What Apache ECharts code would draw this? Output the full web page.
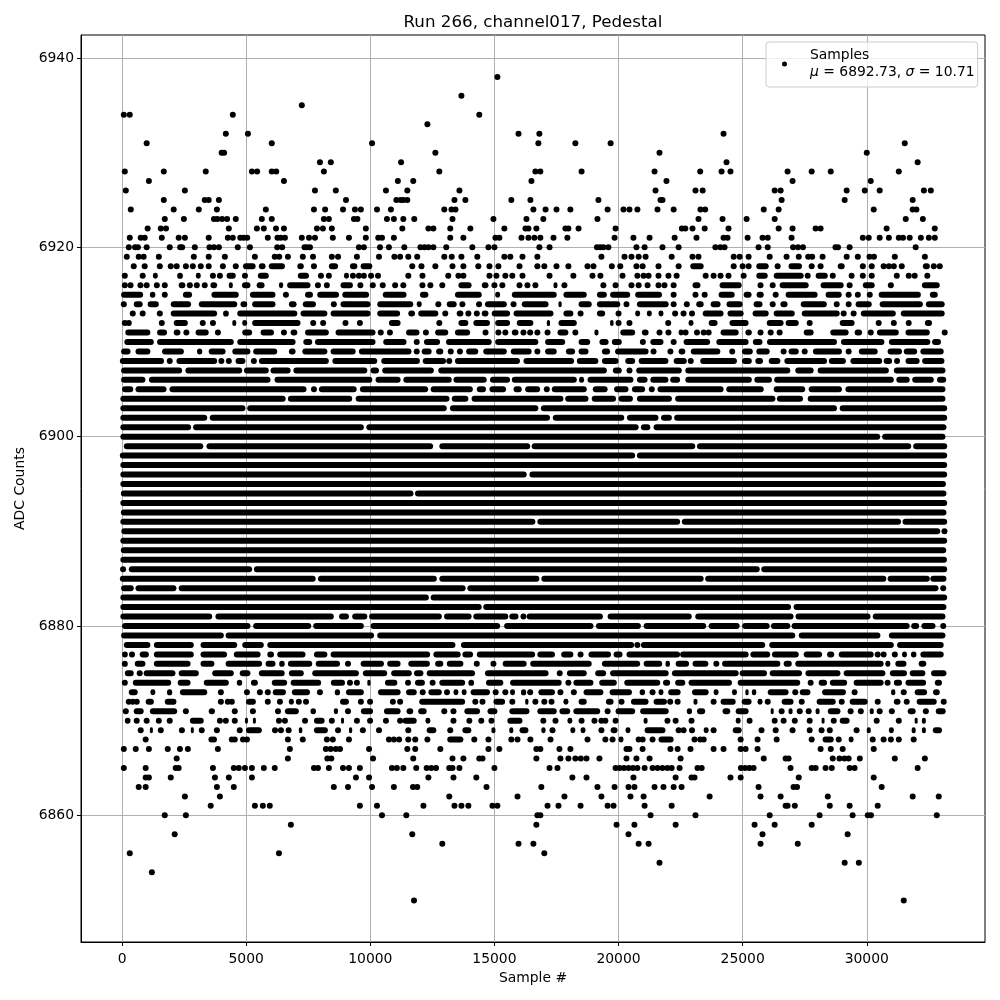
<!DOCTYPE html>
<html>
<head>
<meta charset="utf-8">
<title>Run 266, channel017, Pedestal</title>
<script src="https://cdn.jsdelivr.net/npm/echarts@6/dist/echarts.min.js"></script>
<style>
  html, body { margin: 0; padding: 0; background: #fff; }
  #chart { width: 1000px; height: 1000px; }
</style>
</head>
<body>
<div id="chart"></div>
<script>
// tick labels
const xTicks = [0, 5000, 10000, 15000, 20000, 25000, 30000];
const yTicks = [6860, 6880, 6900, 6920, 6940];

// samples, one list per ADC level
// a number is a single sample, a pair is an unbroken run of samples [first, last]
const upperLevels = [6938, 6936, 6935, 6934, 6933, 6932, 6931, 6930, 6929, 6928, 6927, 6926, 6925, 6924, 6923, 6922, 6921, 6920, 6919, 6918, 6917, 6916, 6915, 6914, 6913, 6912];
const upperRows = [
  [15120],
  [13670],
  [7240],
  [70, 310, 4460, 14390],
  [12300],
  [4180, 5070, 15970, 16810, 24230],
  [990, 6030, 10070, 16770, 18260, 19680, 31530],
  [4010, 4110, 12620, 21650, 30000],
  [7970, 8410, 11240, 24350, 32050],
  [110, 1680, 3370, 5230, 5440, 6030, 6210, 8130, 12780, 16650, 16850, 18510, 21450, 23290, 24150, 24510, 26810, 27780, 28550, 31290],
  [1080, 6520, 11110, 11730, 16490, 21930, 27010, 30160],
  [150, 2530, 7770, 8610, 10630, 11490, 13590, 21490, 23100, 23390, 26290, 26530, 29190, 29920, 30520, 32300, 32580],
  [1680, 3330, 3490, 3900, 9020, 11050, 11220, 11330, 11490, 13390, 13830, 15680, 16450, 19190, 21690, 21770, 26570, 29110, 31850],
  [350, 2080, 3090, 3820, 5790, 7730, 8180, 8900, 9380, 9620, 10270, 10830, 12980, 13270, 13430, 16570, 17060, 17500, 18060, 19560, 20200, 20440, 20760, 21570, 22220, 23300, 23490, 25850, 26450, 30280, 31850, 32000],
  [1720, 2490, 3700, 3840, 4030, 4230, 4580, 5630, 6030, 8130, 8330, 9340, 9480, 10670, 10950, 11330, 11770, 13310, 14960, 16290, 16970, 19150, 23220, 24190, 25160, 26290, 31570, 32260],
  [1030, 1560, 1770, 4300, 5430, 5710, 6200, 6520, 7850, 8090, 8450, 9820, 11290, 12340, 12540, 13220, 14030, 15400, 16250, 16370, 16690, 17860, 17980, 18390, 19880, 22550, 22690, 22980, 23470, 24430, 26450, 27010, 27940, 28140, 30800, 32740],
  [310, 750, 910, 1600, 2280, 2530, 3490, 4260, 4460, 4760, 4900, 5040, 5870, 6260, 6390, 6560, 7240, 7530, 7770, 8490, 9140, 9820, 10320, 10470, 10950, 13220, 13750, 15040, 15200, 16090, 16370, 16610, 16850, 17380, 17940, 19840, 20600, 21250, 22260, 23140, 24230, 24390, 25200, 25800, 26010, 26970, 29840, 30080, 30520, 30890, 31290, 31460, 31730, 32180, 32500, 32740],
  [270, 520, 640, 990, 1920, 2340, 2420, 2930, 3520, 3700, 3900, 4660, 5150, 6250, 6450, 7350, 7450, 7570, 9540, 9740, 10390, 10750, 11370, 12020, 12180, 12340, 12540, 13060, 14110, 14760, 15000, 16810, 17220, 19130, 19260, 19390, 19590, 20720, 21050, 21770, 22420, 23900, 24100, 24270, 25640, 26010, 27030, 27230, 27430, 28740, 28840, 29310, 31970],
  [190, 670, 870, 1480, 2890, 3490, 4140, 5350, 6150, 6330, 6680, 7280, 7690, 8450, 8700, 9460, 10350, 10970, 11200, 11530, 11890, 12980, 13280, 13670, 14310, 15400, 15640, 16130, 16730, 19310, 20240, 20520, 20810, 21090, 22140, 22980, 23220, 24640, 24880, 25240, 26090, 26770, 27260, 27640, 27800, 28220, 29190, 29640, 30110, 30290, 31130, 32340],
  [470, 910, 1520, 1960, 2200, 2570, 2850, 3170, 3490, 4060, 4580, [4870, 5380], [5510, 5780], [5910, 6560], [7060, 7320], 7730, [8330, 8700], [9180, 9480], [9610, 10080], 11690, 12060, 12620, 13310, 13750, 14350, 14800, 15160, 16010, 16730, 17010, 17500, 17980, 18750, 18990, 19730, 20070, 20720, 20970, 21610, 22420, [22890, 23430], 24640, 25000, 25240, [25550, 26050], 26410, [26850, 27390], 27780, 28140, [28830, 29110], 29840, 30200, 30680, 30890, 31090, 31410, [32260, 32540], 32700, 32940],
  [110, 830, [1240, 1440], [2220, 2450], [2970, 3170], 3660, 3940, [4210, 4580], 4950, [5470, 5910], [7080, 7530], 8010, 8330, [8940, 9140], 9300, 9540, 9740, 10030, 10310, 11530, 12100, 13140, 13550, 13750, 14800, 15080, 15440, 15720, 16130, 17220, 18180, 18950, 19270, 20160, 20760, 21010, 21210, 21610, 22010, 22340, 23510, 23830, 24110, 24430, 25040, [25550, 26010], [26250, 27460], 27620, [27940, 28430], 28630, [29270, 29510], 29840, 30200, [31090, 31330], 31690, 31930, 32440],
  [110, 340, 740, 990, 1400, 1720, [2280, 2550], 2730, 3010, 3330, [3560, 3830], [4300, 4460], [4830, 5170], [5420, 5740], [6320, 6490], [6650, 7590], 7890, [8130, 8370], [8800, 9300], 9600, 10100, 10500, 11000, 11330, 12100, 12420, 12900, [13550, 14080], [14490, 14760], 15000, 15320, 16010, 16330, 16650, [17380, 17540], 17820, 19390, 19880, 20520, 20810, 21170, 21610, 21850, 22220, [22980, 23300], [24070, 24960], 25720, 26210, [26490, 27660], [28140, 29070], 29310, [29840, 30320], 30970, [32220, 32940]],
  [[-40, 850], [1120, 1340], [1600, 1840], [2450, 2820], [3600, 4700], [5150, 6180], 6600, [7370, 7690], [7860, 8740], [8870, 9950], [10500, 11460], [12000, 12340], [13410, 14490], [15030, 15230], [15700, 17510], [17780, 18720], [19130, 19530], [19660, 20470], [20670, 21750], 22220, 23100, 23470, [24030, 24680], [25040, 25360], [25560, 25850], 26330, [26730, 28020], [28340, 28990], 29270, 29640, 30120, [30480, 32180], [32540, 32860]],
  [70, [470, 830], [1030, 1480], [1960, 2780], [3090, 4640], [4770, 5040], [5240, 6180], [6720, 7030], [7280, 7810], 8530, [8800, 10010], [10280, 11730], [11870, 12070], 12740, [13080, 13480], 13710, 14380, [14620, 15500], 15770, [16100, 17180], [17580, 17710], [18390, 18920], [19130, 20070], [20200, 20440], [20740, 22020], 22220, 22750, [23130, 23430], [23710, 24110], [24350, 25000], [25440, 25800], 26210, [26520, 26810], [27340, 28390], [28670, 28910], [29150, 29390], [29550, 30200], [30520, 32260], [32380, 33140]],
  [430, 830, 1520, [1960, 3830], [4070, 4300], [4640, 7060], [7190, 8270], [8400, 10010], [10280, 11200], [11530, 11800], [11930, 12740], 13020, [13480, 13750], 13950, 14290, [14490, 14760], [14890, 15630], [15770, 17380], [17780, 18180], 18470, [19130, 19460], 20000, [20670, 20870], [21140, 21340], [21610, 21810], 22280, 22620, 22960, [23390, 24230], [24390, 25040], [25400, 26050], [26250, 27100], [27380, 28910], 29070, 29470, [29760, 31170], [31370, 33140]],
  [110, 270, 1600, [2080, 2650], 3250, 3660, [4440, 4600], [4840, 5040], [5240, 7190], 7700, 8100, 9000, 9580, [10750, 11220], 12780, [13550, 13950], [14150, 14820], [15030, 15630], [15900, 16570], [17110, 17240], [17580, 18320], [19660, 19800], 20000, 20440, 22000, [22820, 23020], [23630, 23990], [24470, 25240], [25970, 26650], [26730, 27260], 27700, [28910, 29510], 30480, 31090, [31570, 31810], [32340, 32630]]
];

const coreLevels = [6911, 6910, 6909, 6908, 6907, 6906, 6905, 6904, 6903, 6902, 6901, 6900, 6899, 6898, 6897, 6896, 6895, 6894, 6893, 6892, 6891, 6890, 6889, 6888, 6887, 6886, 6885, 6884, 6883, 6882, 6881, 6880, 6879];
const coreRows = [
  [[130, 1140], [1410, 1810], [2080, 2350], 2590, [2960, 3490], 3860, [4840, 5240], [5580, 6120], 6520, [6790, 7060], [7370, 8330], [8600, 10210], 10420, 10790, [11440, 11980], 12240, [12610, 13140], [13410, 14020], 14640, 15160, 15440, [15700, 15970], 16170, 16440, 16730, 17140, [17540, 17980], 18260, [19030, 19190], [20070, 20670], [20940, 21210], 21650, 22010, [22420, 22620], 22700, 23160, 23430, 23630, [24110, 24840], [25110, 25370], 25720, 26130, 26490, [27460, 27860], [28530, 29270], [29510, 29810], 30160, [30410, 31290], [31560, 32540], 33140],
  [[90, 1280], [1410, 4500], [4640, 6990], [7300, 7660], [7770, 10210], [10520, 11460], 11870, [12160, 12810], [13050, 14890], [15030, 16770], [17040, 17850], [18390, 18860], [19230, 19600], [19730, 20130], 20980, [21280, 21810], 22220, [22620, 23690], [23940, 25240], [25410, 25800], [25980, 28800], [28960, 30710], [30890, 32560], [32630, 32990]],
  [[-40, 340], [540, 1140], [1610, 2490], [3020, 3230], [3490, 4170], [4440, 5170], [5280, 6250], [6720, 6990], [7260, 8270], [8400, 9410], [9540, 11660], 11870, [12070, 12470], [12650, 12940], 13240, 13610, [13860, 14350], [14550, 15500], [15660, 16500], 16730, [17040, 17510], [17880, 18250], [18390, 18790], [19330, 19660], [19860, 21210], 21410, 22090, [22420, 22690], [22910, 24100], [24460, 24700], [24970, 25410], [25550, 26090], 26650, [26850, 27260], 27500, [27830, 29000], 29270, [29680, 30440], [30840, 31420], [31490, 32030], [32160, 33100]],
  [[-90, 1690], 1920, [2190, 3830], 4000, 4300, [4570, 4970], 5310, [5510, 8330], [8470, 10280], [10440, 12000], [12110, 13050], 13180, [13410, 16030], [16170, 18210], [18320, 19190], [19330, 20000], [20270, 20670], [20810, 22010], [22220, 22750], 22910, [23290, 24770], [24970, 25370], [25510, 25820], [26050, 26520], [26680, 28400], [28470, 29160], [29340, 30620], [30680, 31020], 31220, [31560, 32130], [32230, 33130]],
  [[-40, 2420], [2550, 4840], [4910, 5910], [5980, 6790], [6900, 9880], [10010, 10350], [10480, 12560], [12740, 19530], [19770, 20130], 20440, [20710, 22550], [22690, 26920], [27120, 27860], [28020, 30890], [31090, 33170]],
  [[-40, 940], [1080, 5980], [6140, 10080], [10210, 11220], [11330, 13280], [13350, 14690], [14820, 15630], [15700, 18320], [18410, 18610], [18750, 20600], [20740, 21170], [21280, 22010], [22080, 22480], [22690, 25370], [25470, 26180], [26270, 31090], [31190, 31730], [31830, 32700], [32830, 33200]],
  [[0, 450], [540, 1790], [1910, 7430], 7730, [7930, 9450], [9580, 12330], [12430, 14130], [14290, 14660], [14800, 15470], [15770, 16100], [16240, 16840], 17110, [17310, 18720], [18960, 19560], [19820, 20400], [20540, 21070], 21340, [21570, 24230], [24340, 25850], [26250, 27520], [27660, 29000], [29140, 33170]],
  [[-70, 6590], [6680, 9270], [9410, 13190], [13280, 13950], [14080, 17780], [17850, 18790], [18920, 19900], [20000, 20580], [20740, 22150], [22280, 26320], [26380, 27430], [27620, 33170]],
  [[-70, 4970], [5040, 13080], [13210, 16770], [16870, 28800], [28910, 33240]],
  [[-70, 3430], [3530, 17240], [17350, 20230], [20340, 21610], [21710, 22150], [22240, 33240]],
  [[-70, 2780], [2860, 9740], [9840, 20810], [20900, 21280], [21410, 33210]],
  [[-70, 30540], [30620, 33170]],
  [[70, 3270], [3400, 12530], [12780, 16440], [16500, 23090], [23160, 31790], [31870, 33240]],
  [[-90, 20670], [20740, 33240]],
  [[-70, 33240]],
  [[-70, 16300], [16410, 33240]],
  [[-70, 33190]],
  [[-50, 11740], [11800, 33210]],
  [[-70, 33240]],
  [[-50, 33210]],
  [[-70, 16650], [16730, 22480], [22550, 31380], [31440, 33240]],
  [[-30, 32960], 33130],
  [[-70, 33240]],
  [[-50, 33200]],
  [[-70, 33230]],
  [40, [270, 5240], [5310, 25690], [25750, 33240]],
  [[-90, 7800], [7890, 12680], [12780, 16810], [16890, 23430], [23490, 30790], [30840, 32540], [32560, 33210]],
  [[-40, 470], [540, 2190], [2280, 13840], [13910, 32890], 33080],
  [[-70, 12360], [12430, 33240]],
  [[-70, 14490], [14550, 26950], [27050, 33210]],
  [[-70, 3630], [3760, 8530], [8740, 9140], [9270, 9880], [9950, 12880], [12970, 14080], [14150, 15560], [15600, 15970], 16170, [16300, 19370], [19560, 22950], [23090, 27050], [27130, 30150], [30240, 33170]],
  [[0, 5170], [5280, 7620], [7700, 9740], [10010, 15230], [15390, 18990], [19090, 20900], [21010, 23530], [23630, 24880], [24980, 26090], [26140, 26920], [26970, 31730], [31790, 32110], [32200, 32770], 33080],
  [[-40, 4100], [4170, 10150], [10280, 27120], [27260, 30550], [30890, 33170]]
];

const lowerLevels = [6878, 6877, 6876, 6875, 6874, 6873, 6872, 6871, 6870, 6869, 6868, 6867, 6866, 6865, 6864, 6863, 6862, 6861, 6860, 6859, 6858, 6857, 6856, 6855, 6854, 6851];
const lowerRows = [
  [[70, 1140], [1280, 2890], [3160, 4640], [4840, 5710], [5850, 13430], [13650, 20630], 20760, [20900, 25910], [26070, 31090], [31220, 33100]],
  [[0, 230], 400, [710, 1080], [1280, 2890], [3160, 4230], [4500, 5580], [5850, 6120], [6250, 7390], [7730, 8270], [8400, 12410], [12540, 13640], [13710, 14140], [14290, 16640], [16730, 17440], [17690, 18180], 18470, [18790, 19700], [19800, 20160], [20320, 22480], [22480, 25240], [25310, 26110], [26180, 27260], [27460, 28200], [28400, 28690], [28870, 30280], 30440, 30680, 31130, [31420, 31620], [31780, 32000], [32160, 33100]],
  [[-10, 230], [510, 940], [1280, 2760], [3160, 3720], [4170, 5640], [5780, 6180], [6330, 6550], [6680, 7660], [7800, 8780], 9100, [9610, 10550], [10680, 11220], [11530, 12400], [12610, 12940], [13080, 13750], 14290, 14960, [15330, 16300], [16440, 18920], [19330, 20870], [21010, 21760], [21890, 22070], [22300, 22840], [22980, 23620], 23940, [24170, 26520], [26650, 26980], [27120, 30680], [30750, 30950], [31150, 31600], [32090, 32400]],
  [[110, 470], 710, [870, 2150], [2280, 3090], [3630, 4500], [4740, 5170], [5510, 6550], [6720, 7320], [7660, 9540], [9700, 10680], [10840, 11670], [11760, 12140], [12270, 14220], [14620, 17180], [17510, 17750], [17920, 18720], [19060, 19500], [19660, 22020], [22150, 24840], [24880, 25980], [26090, 27390], [27530, 28940], [29070, 30750], [30930, 31620], [31730, 32360], [32590, 33210]],
  [110, [430, 1980], [2240, 2760], [3290, 4300], [4620, 4840], [5190, 5470], [6030, 6650], [6790, 8020], [8410, 8980], 9180, 9460, [9880, 10010], [10590, 11090], [11400, 11640], [11800, 12200], 12510, [12780, 13820], [13950, 14180], [14660, 15360], [15630, 17710], 17980, [18180, 18990], [19220, 19930], [20230, 21680], [21790, 22080], [22280, 22690], [22820, 24570], [24800, 27320], [27620, 27860], [28060, 28400], [28510, 29210], [29470, 30680], 30840, [31090, 31420], [31560, 32390], [32740, 33030]],
  [[270, 630], [1140, 1340], [1810, 2020], [2330, 3430], [3860, 4100], 5030, 5550, 5870, [6070, 6600], [6840, 7570], 7970, [8570, 8780], [9020, 9740], [10310, 11220], [11440, 11870], 12110, [12340, 12880], [12970, 13210], [13350, 13550], [13680, 13880], [14040, 14820], 15050, 15440, [15630, 15830], [16070, 16280], 16440, [16770, 17440], 17660, 18200, [18590, 19390], [19640, 20540], [20850, 21070], 21370, [21610, 21810], [22000, 22500], [22960, 23630], [23830, 24030], [24570, 24770], [25110, 25240], [25370, 25550], [26010, 26850], 27120, [27300, 27730], [28200, 29160], 29510, [30980, 31150], 31490, [31930, 32430], [32670, 32940]],
  [270, 430, 590, [950, 1280], [1720, 2190], 3980, 4260, 4420, [4990, 5390], 5870, 6360, [6720, 6920], 7120, 7410, [8780, 9140], [9500, 9740], 9990, 10910, 11200, [11970, 13820], 14230, 14520, [14960, 15430], 15720, [16240, 16370], 16650, 17010, 17300, [17780, 17980], [18390, 18720], [19490, 19800], 20120, [20500, 21210], [21410, 21950], 22080, 22380, [23020, 23180], 23830, [24110, 24720], [24960, 25360], [25600, 25800], 26010, [26570, 27050], [27260, 27500], [27980, 28750], 28990, [29310, 30040], 30440, [31090, 31360], [31490, 31730], [32010, 32820], 33100],
  [150, [470, 870], [1120, 2220], 2570, [3490, 3740], 4540, 5270, 6280, [6560, 7120], [7590, 7810], [8530, 8700], 9100, [9620, 10110], [10550, 11220], [11460, 11730], [11930, 12270], 12980, 13350, [13790, 14420], [14720, 15120], [15600, 16410], [16730, 17510], [17620, 18050], [18180, 19260], 19560, [19880, 20670], [20870, 22020], [22750, 22960], [23160, 23490], [24190, 24500], [24720, 25240], [26130, 26250], 26570, [26850, 27010], 27300, 27660, [27940, 28100], [28430, 28940], 29350, 29760, [30120, 30280], 30520, 31010, [31650, 31970], 32380, [32780, 33180]],
  [[110, 340], 590, 990, [1360, 1600], 1920, [2730, 3290], 3940, 4180, 4540, [4950, 5070], [5270, 5390], 6320, 6560, 7370, [7730, 8160], 8450, [8820, 8940], 9460, 9990, 10630, 11200, [11300, 11870], [12220, 12420], 13350, [13870, 14110], 14470, 14880, [15520, 16130], 16970, 17460, [17940, 18140], 18510, 19030, 19310, 19470, [19760, 20000], [21010, 21170], 21970, 22300, 22940, [24720, 24920], [25160, 25400], [26170, 26410], 26650, 27100, 27700, [28180, 28300], 28670, [28910, 29310], 30400, 31290, [31930, 32050], [32220, 32380]],
  [750, [1120, 1240], [1440, 1680], 2410, [2770, 2890], [3090, 3330], 3820, 4740, [4990, 5630], 6160, 6400, 6710, [7120, 7260], [7730, 8290], 8700, [9140, 9270], 9700, 10350, 11530, [12270, 12660], 13220, [13710, 14070], [14880, 15040], [15600, 15760], [16010, 16370], [16890, 17060], 17340, [18060, 18260], [18470, 18670], 19310, [19680, 19960], [20280, 20480], [21050, 21890], 22420, 22620, 22960, [23430, 23630], 23830, [24600, 24960], 25760, 26330, 27010, [27580, 27820], 28180, 28510, 29590, [30000, 30160], [30890, 31090], [31810, 31970], [32220, 32380], [32660, 33030]],
  [950, 3600, 3700, 4420, 4540, 4870, 5030, 6680, 7280, 8250, 8490, 9140, 10750, 10950, 11160, 11530, 11810, 12300, [13100, 13750], 14190, 14760, 15680, 15930, 16450, 17260, 18750, 19470, 19760, [20000, 20200], 20810, 20970, 21370, [21610, 22220], 23060, 23290, 23430, 24920, 25600, 26370, 27780, [28220, 28670], 28870, [29270, 29470], 30240, 30680, 30970, 31290, 31890],
  [70, 550, 1080, 1840, 2330, 2650, 3860, 6760, 8210, 8400, 8610, 8780, 9950, 11490, 11810, 12820, 14760, 15200, 16690, 16850, 17620, 18060, 20320, 20440, 20970, 22090, 22380, 22900, 23830, 24230, 24920, 25120, 25600, 28140, 28550, 29030, 30280],
  [2200, 6680, 8270, 8430, 10110, 11730, 13310, 13750, 14390, 14520, 16690, 17660, 17980, 18260, 18480, 18710, 19230, 20320, 20720, 21250, 22500, 25850, 26730, 26850, 28630, 28900, 29100, 29270, 29720, 31130, 32340],
  [70, 950, 2160, 2280, 3660, 4500, 4700, 4950, 5230, 5710, 6150, 7730, 7890, 8330, 8900, 9140, 9580, 10870, 11070, 11330, 11850, 12270, 12460, 12650, 13180, 13310, 13590, 15000, 17220, 17540, 19880, 20040, 20220, 20400, 20580, 20760, 21050, 21370, 21570, 21770, 21970, 22140, 22460, 23180, 23350, 24930, 25100, 25270, 25440, 26930, 27780, 27940, 28340, 28590, 29310, 29510, 32050],
  [950, 1080, 1960, 3740, 4300, 5230, 9420, 9950, 12340, 13350, 14270, 18140, 18710, 20600, 22300, 22940, 23060, 24510, 24920, 27260, 30280],
  [670, 950, 3820, 4500, 8530, 9100, 10070, 10950, 11720, 11890, 14680, 16890, 19150, 19840, 20400, 20640, 21450, 21810, 22220, 22540, 25640, 27050, 27190, 30600],
  [2530, 3940, 13180, 15930, 17820, 19310, 20480, 21010, 23670, 25720, 26530, 28430, 31850, 32900],
  [3570, 5350, 5670, 5950, 9580, 10270, 12140, 13390, 13670, 13950, 14920, 15120, 17140, 17580, 18470, 19560, 19800, 21050, 22140, 26730, 26810, 27100, 28510, 29310, 30440],
  [1720, 2570, 10470, 11450, 16730, 16850, 21290, 23100, 26090, 28100, 29430, 30040, 30170, 32820],
  [6800, 16690, 19920, 20640, 22300, 25480, 26290, 27780],
  [2120, 11690, 20400, 25800, 29230],
  [12900, 15970, 16570, 20810, 21210, 25720, 27220],
  [310, 6320, 17010],
  [21650, 29110, 29680],
  [1200],
  [11760, 31490]
];

// split one block of rows into single points and runs
function splitRows(levels, rows, points, runs) {
  rows.forEach(function (row, i) {
    row.forEach(function (item) {
      if (Array.isArray(item)) {
        runs.push([item[0], item[1], levels[i]]);
      } else {
        points.push([item, levels[i]]);
      }
    });
  });
}

const samplePoints = [];
const sampleRuns = [];
splitRows(upperLevels, upperRows, samplePoints, sampleRuns);
splitRows(coreLevels, coreRows, samplePoints, sampleRuns);
splitRows(lowerLevels, lowerRows, samplePoints, sampleRuns);

const markerSize = 6;
const axisColor = "#000";
const labelFont = "DejaVu Sans";

const myChart = echarts.init(document.getElementById("chart"), null, { renderer: "canvas" });

myChart.setOption({
  animation: false,
  backgroundColor: "#fff",
  textStyle: { fontFamily: labelFont },
  title: {
    text: "Run 266, channel017, Pedestal",
    left: 528,
    top: 9,
    textAlign: "center",
    textStyle: { color: "#000", fontSize: 16.7, fontWeight: "normal", fontFamily: labelFont }
  },
  grid: { show: true, left: 81, right: 15, top: 35, bottom: 58, borderColor: "#000", borderWidth: 1 },
  legend: {
    data: ["Samples"],
    left: 766,
    top: 42,
    padding: [5, 3, 6, 16],
    itemWidth: 5,
    itemHeight: 5,
    icon: "circle",
    backgroundColor: "rgba(255,255,255,0.8)",
    borderColor: "#ccc",
    borderWidth: 1,
    borderRadius: 3,
    formatter: function () {
      return "Samples\n{i|μ} = 6892.73, {i|σ} = 10.71";
    },
    textStyle: {
      color: "#000",
      fontSize: 13.9,
      lineHeight: 17,
      fontFamily: labelFont,
      padding: [0, 0, 0, 18],
      rich: {
        i: { fontStyle: "italic", fontSize: 13.9, fontFamily: labelFont, color: "#000" }
      }
    }
  },
  xAxis: {
    type: "value",
    min: -1655,
    max: 34763,
    name: "Sample #",
    nameLocation: "middle",
    nameGap: 29,
    nameTextStyle: { color: "#000", fontSize: 13.9 },
    axisLine: { show: true, onZero: false, lineStyle: { color: axisColor, width: 1 } },
    axisTick: { show: true, length: 4, customValues: xTicks, lineStyle: { color: axisColor, width: 1 } },
    axisLabel: { color: "#000", fontSize: 13.9, margin: 10, customValues: xTicks, formatter: function (v) { return String(v); } },
    splitLine: { show: true, lineStyle: { color: "#b0b0b0", width: 1 } }
  },
  yAxis: {
    type: "value",
    min: 6846.62,
    max: 6942.43,
    name: "ADC Counts",
    nameLocation: "middle",
    nameGap: 47,
    nameTextStyle: { color: "#000", fontSize: 13.9 },
    axisLine: { show: true, onZero: false, lineStyle: { color: axisColor, width: 1 } },
    axisTick: { show: true, length: 4, customValues: yTicks, lineStyle: { color: axisColor, width: 1 } },
    axisLabel: { color: "#000", fontSize: 13.9, margin: 7, customValues: yTicks, formatter: function (v) { return String(v); } },
    splitLine: { show: true, lineStyle: { color: "#b0b0b0", width: 1 } }
  },
  series: [
    {
      name: "Samples",
      type: "scatter",
      symbol: "circle",
      symbolSize: markerSize,
      itemStyle: { color: "#000", opacity: 1 },
      data: samplePoints,
      silent: true,
      z: 3
    },
    {
      name: "Runs",
      type: "custom",
      data: sampleRuns,
      silent: true,
      z: 3,
      encode: { x: [0, 1], y: 2 },
      renderItem: function (params, api) {
        const a = api.coord([api.value(0), api.value(2)]);
        const b = api.coord([api.value(1), api.value(2)]);
        return {
          type: "rect",
          shape: { x: a[0], y: a[1] - markerSize / 2, width: b[0] - a[0], height: markerSize, r: markerSize / 2 },
          style: { fill: "#000" }
        };
      }
    }
  ]
});
</script>
</body>
</html>
